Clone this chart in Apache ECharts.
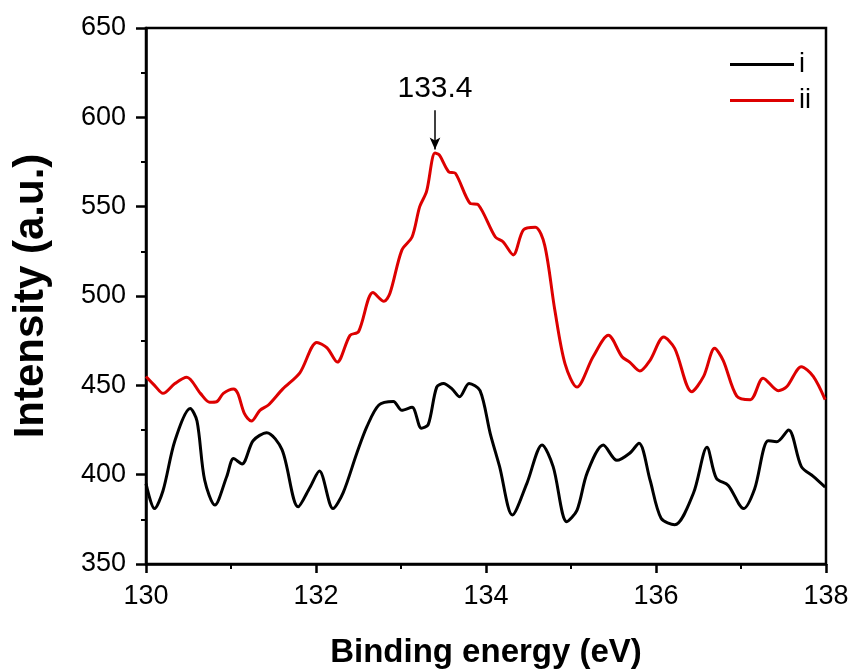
<!DOCTYPE html>
<html>
<head>
<meta charset="utf-8">
<script src="https://cdn.jsdelivr.net/npm/echarts@6/dist/echarts.min.js"></script>
<style>
  html, body { margin: 0; padding: 0; background: #fff; }
  #main { width: 856px; height: 669px; }
</style>
</head>
<body>
<div id="main"></div>
<script>
// binding energy (eV) and intensity
const energy_i = [130.00, 130.10, 130.20, 130.34, 130.52, 130.60, 130.69, 130.81, 130.95, 131.03,
  131.13, 131.26, 131.42, 131.60, 131.79, 131.93, 132.04, 132.20, 132.32, 132.48,
  132.60, 132.74, 132.91, 133.01, 133.13, 133.24, 133.32, 133.42, 133.50, 133.60,
  133.69, 133.80, 133.93, 134.05, 134.16, 134.31, 134.48, 134.66, 134.79, 134.95,
  135.07, 135.19, 135.38, 135.54, 135.69, 135.80, 135.93, 136.06, 136.22, 136.44,
  136.60, 136.71, 136.85, 137.03, 137.16, 137.32, 137.42, 137.56, 137.71, 137.85, 137.99];
const intensity_i = [395, 381, 391, 419, 437, 430, 397, 383, 399, 409,
  406, 419, 423.5, 414, 382, 393, 402, 381, 390, 412,
  427, 439, 441, 436, 437.7, 426, 428, 449, 451, 448,
  443.6, 451, 447, 423, 404.5, 377.4, 395, 416.6, 404.5, 373.7,
  380, 401, 416.6, 408, 412, 417.6, 397, 375.6, 372, 389.6,
  415.3, 398, 394, 381, 392, 419, 418.4, 425, 404.5, 399, 393];

const energy_ii = [130.00, 130.10, 130.20, 130.34, 130.48, 130.64, 130.75, 130.83, 130.91, 131.03,
  131.08, 131.16, 131.24, 131.34, 131.44, 131.61, 131.81, 132.01, 132.13, 132.25,
  132.40, 132.50, 132.67, 132.80, 132.87, 133.01, 133.13, 133.22, 133.30, 133.40,
  133.45, 133.56, 133.64, 133.81, 133.91, 134.11, 134.20, 134.32, 134.44, 134.58,
  134.69, 134.81, 134.93, 135.07, 135.26, 135.44, 135.60, 135.69, 135.81, 135.93,
  136.09, 136.22, 136.42, 136.56, 136.69, 136.79, 136.95, 137.11, 137.26, 137.44,
  137.54, 137.71, 137.85, 137.99];
const intensity_ii = [455, 450, 445.5, 451, 454.5, 445.5, 440.5, 440.8, 445.5, 448,
  445.5, 434, 430, 436, 439, 448, 457, 474, 471, 463,
  478, 480, 502, 497, 501.5, 525.7, 533, 550, 558.4, 580,
  579, 569.6, 568.7, 552, 551, 533, 530.4, 523, 537, 538.5,
  528.5, 492, 462, 449, 466, 478, 466, 463, 458, 464,
  477, 470.7, 446.4, 455, 470.7, 464, 444, 442, 454, 447,
  449.3, 460.4, 455, 442];

// peak marker
const peak_energy = 133.4;
const peak_label = "133.4";

const font = "Liberation Sans, Arial, sans-serif";

function pairs(xs, ys) {
  return xs.map((x, i) => [x, ys[i]]);
}

const mychart = echarts.init(document.getElementById("main"));
const option = {
  animation: false,
  backgroundColor: "#fff",
  grid: {
    left: 146,
    right: 30,
    top: 28,
    bottom: 105,
    outerBoundsMode: "none",
    show: true,
    borderColor: "#000",
    borderWidth: 2.5,
  },
  legend: {
    data: ["i", "ii"],
    orient: "vertical",
    left: 725,
    top: 46,
    icon: "rect",
    itemWidth: 64,
    itemHeight: 3,
    itemGap: 9,
    textStyle: { fontFamily: font, fontSize: 27, color: "#000" },
  },
  xAxis: {
    type: "value",
    min: 130,
    max: 138,
    interval: 2,
    name: "Binding energy (eV)",
    nameLocation: "middle",
    nameGap: 72,
    nameTextStyle: { fontFamily: font, fontSize: 33, fontWeight: "bold", color: "#000" },
    axisLine: { lineStyle: { color: "#000", width: 2.5 } },
    axisTick: { length: 9, lineStyle: { color: "#000", width: 2.5 } },
    minorTick: { show: true, splitNumber: 2, length: 5, lineStyle: { color: "#000", width: 2 } },
    axisLabel: { fontFamily: font, fontSize: 27, color: "#000", margin: 19 },
    splitLine: { show: false },
  },
  yAxis: {
    type: "value",
    min: 350,
    max: 650,
    interval: 50,
    name: "Intensity (a.u.)",
    nameLocation: "middle",
    nameGap: 94,
    nameTextStyle: { fontFamily: font, fontSize: 42, fontWeight: "bold", color: "#000" },
    axisLine: { show: true, lineStyle: { color: "#000", width: 2.5 } },
    axisTick: { show: true, length: 10, lineStyle: { color: "#000", width: 2.5 } },
    minorTick: { show: true, splitNumber: 2, length: 5, lineStyle: { color: "#000", width: 2 } },
    axisLabel: { fontFamily: font, fontSize: 27, color: "#000", margin: 20 },
    splitLine: { show: false },
  },
  series: [
    {
      name: "i",
      type: "line",
      data: pairs(energy_i, intensity_i),
      smooth: 0.3,
      symbol: "none",
      showSymbol: false,
      lineStyle: { color: "#000", width: 3 },
      itemStyle: { color: "#000" },
    },
    {
      name: "ii",
      type: "line",
      data: pairs(energy_ii, intensity_ii),
      smooth: 0.3,
      symbol: "none",
      showSymbol: false,
      lineStyle: { color: "#dd0000", width: 3 },
      itemStyle: { color: "#dd0000" },
      markLine: {
        silent: true,
        symbol: ["none", "arrow"],
        symbolSize: [8, 12],
        lineStyle: { color: "#000", width: 1.5, type: "solid" },
        label: {
          show: true,
          position: "start",
          formatter: peak_label,
          fontFamily: font,
          fontSize: 30,
          color: "#000",
          distance: 6,
        },
        data: [[{ coord: [peak_energy, 604] }, { coord: [peak_energy, 582] }]],
      },
    },
  ],
};
mychart.setOption(option);
</script>
</body>
</html>
